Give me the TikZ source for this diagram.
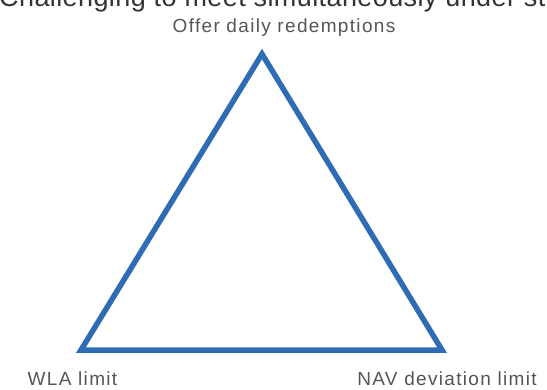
\documentclass[tikz,border=0pt]{standalone}
\usepackage{fontspec}
\setmainfont{Liberation Sans}
\definecolor{triblue}{HTML}{2E6DB4}
\definecolor{labgray}{HTML}{555555}
\definecolor{titlegray}{HTML}{333333}
\begin{document}
\begin{tikzpicture}[x=1pt,y=1pt,
  lab/.style={text=labgray,font=\fontsize{19}{21}\selectfont\addfontfeatures{LetterSpace=7},inner sep=0pt,anchor=base},
  tri/.style={draw=triblue,line width=5.5pt,line join=miter}]
\useasboundingbox (0,0) rectangle (547,389);
\node[text=titlegray,font=\fontsize{27}{29}\selectfont\addfontfeatures{LetterSpace=1.5},inner sep=0pt,anchor=base west] (title) at (-1,382.5) {Challenging to meet simultaneously under stress};
\coordinate (top) at (262,335);
\coordinate (bl) at (81,39);
\coordinate (br) at (442,39);
\draw[tri] (top) -- (bl) -- (br) -- cycle;
\node[lab] (offer) at (284,356) {Offer daily redemptions};
\node[lab] (wla) at (72.5,4) {WLA limit};
\node[lab] (nav) at (447,4) {NAV deviation limit};
\end{tikzpicture}
\end{document}
